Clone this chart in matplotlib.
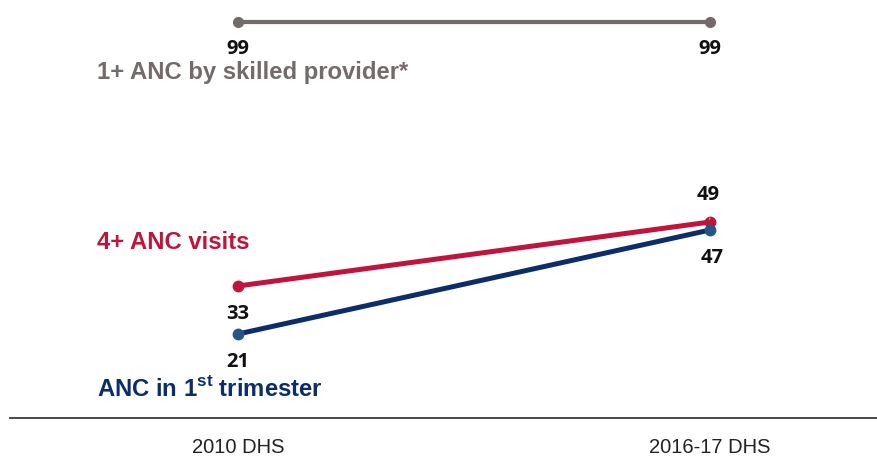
import matplotlib
matplotlib.use("Agg")
import matplotlib.pyplot as plt

# Survey rounds and indicator values (%)
surveys = ["2010 DHS", "2016-17 DHS"]
skilled_anc = [99, 99]
anc4_visits = [33, 49]
anc_first_trim = [21, 47]

series_names = ["1+ ANC by skilled provider*", "4+ ANC visits", "ANC in 1st trimester"]

GREY = "#736b69"
RED = "#c0143c"
NAVY = "#0b2d6b"
BLUE_MK = "#245584"

plt.rcParams["mathtext.fontset"] = "custom"
plt.rcParams["mathtext.rm"] = "Liberation Sans:bold"
plt.rcParams["mathtext.bf"] = "Liberation Sans:bold"

W, H = 877, 460
fig = plt.figure(figsize=(W / 100, H / 100), dpi=100)
# axes box in pixel terms: x from 10 to 877, y from 0 to 419 (value 0 at baseline)
ax = fig.add_axes([10 / W, (H - 419) / H, (W - 10) / W, 419 / H])
x = [0, 1]
ax.set_xlim(-228 / 472, (877 - 238) / 472)
ax.set_ylim(0, 419 / 4)

for s in ["top", "right", "left"]:
    ax.spines[s].set_visible(False)
ax.spines["bottom"].set_color("#3a3a3a")
ax.spines["bottom"].set_linewidth(1.3)
ax.set_yticks([])
ax.set_xticks(x)
ax.set_xticklabels(surveys, family=["Liberation Sans", "DejaVu Sans"],
                   fontsize=14.5, color="#222222")
ax.tick_params(axis="x", length=0, pad=14)

ax.plot(x, skilled_anc, color=GREY, lw=3, marker="o", ms=7, solid_capstyle="round", zorder=3)
ax.plot(x, anc4_visits, color=RED, lw=3.6, marker="o", ms=7.5, zorder=3)
ax.plot(x, anc_first_trim, color=NAVY, lw=3.6, marker="o", ms=7.5,
        mfc=BLUE_MK, mec=BLUE_MK, zorder=4)

num_kw = dict(family=["Open Sans", "DejaVu Sans"], fontweight="bold", fontsize=14.5,
              color="#111111", ha="center", va="center", textcoords="offset points")

px = 0.72  # points per pixel
for xi, v in zip(x, skilled_anc):
    ax.annotate(str(v), (xi, v), xytext=(0, -26 * px), **num_kw)
ax.annotate(str(anc4_visits[0]), (0, anc4_visits[0]), xytext=(0, -27 * px), **num_kw)
ax.annotate(str(anc_first_trim[0]), (0, anc_first_trim[0]), xytext=(0, -27 * px), **num_kw)
ax.annotate(str(anc4_visits[1]), (1, anc4_visits[1]), xytext=(-2 * px, 28 * px),
            arrowprops=dict(arrowstyle="-", color="#b0b0b0", lw=0.8, shrinkA=8, shrinkB=2),
            **num_kw)
ax.annotate(str(anc_first_trim[1]), (1, anc_first_trim[1]), xytext=(2 * px, -27 * px), **num_kw)

lab_kw = dict(family=["Liberation Sans", "DejaVu Sans"], fontweight="bold", fontsize=17.2,
              ha="left", va="center")
lx = (97 - 238) / 472
ax.text(lx, (419 - 72) / 4, series_names[0], color=GREY, **lab_kw)
ax.text(lx, (419 - 243) / 4, series_names[1], color=RED, **lab_kw)
ax.text(lx, (419 - 389) / 4, r"ANC in 1$^{\mathbf{st}}$ trimester", color=NAVY, **lab_kw)

fig.savefig("out.png", dpi=100)
